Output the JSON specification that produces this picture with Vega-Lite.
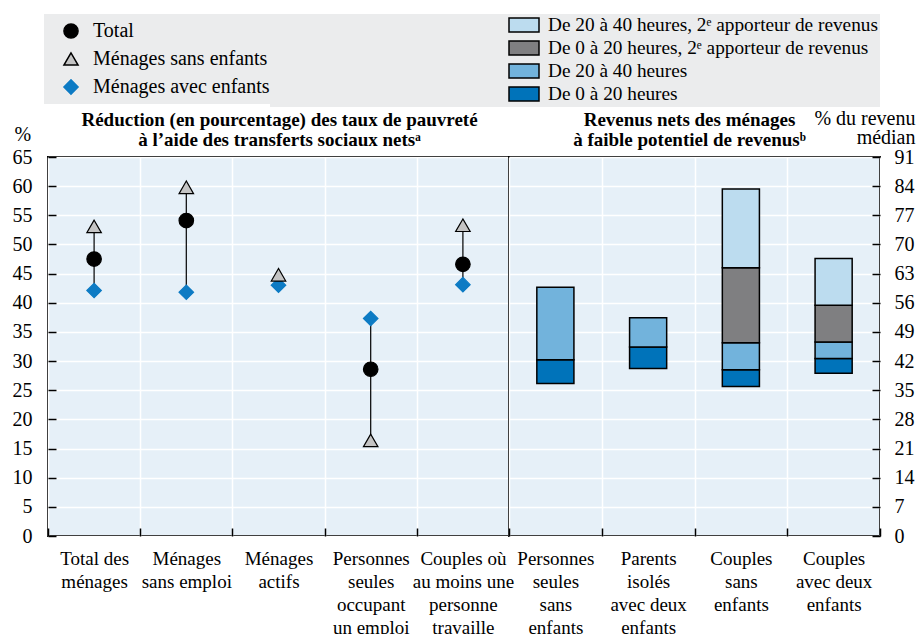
{
  "$schema": "https://vega.github.io/schema/vega-lite/v6.json",
  "padding": {"left": 11, "top": 13, "right": 0, "bottom": 0},
  "background": "white",
  "config": {
    "font": "Liberation Sans Narrow",
    "view": {"fill": "#e6f0f8", "stroke": "#000000", "strokeWidth": 2},
    "axis": {
      "labelFont": "Liberation Sans Narrow", "labelFontSize": 19, "labelColor": "#000000",
      "titleFont": "Liberation Sans Narrow", "titleFontSize": 19, "titleFontWeight": "normal", "titleColor": "#000000",
      "gridColor": "#ffffff", "gridWidth": 1.5, "gridOpacity": 1,
      "domain": false, "tickColor": "#000000", "tickWidth": 1.5
    },
    "legend": {
      "labelFont": "Liberation Sans Narrow", "labelFontSize": 20, "labelColor": "#000000", "labelLimit": 1000,
      "titleFont": "Liberation Sans Narrow", "titleFontSize": 12
    }
  },
  "spacing": 0,
  "bounds": "flush",
  "resolve": {
    "scale": {"x": "independent", "y": "independent", "color": "independent", "shape": "independent", "fill": "independent", "stroke": "independent"},
    "legend": {"color": "independent", "shape": "independent", "fill": "independent", "stroke": "independent"}
  },
  "hconcat": [
    {
      "width": 461,
      "height": 379,
      "data": {
        "values": [
          {"cat": "Total des|ménages", "series": "Total", "value": 47.5},
          {"cat": "Ménages|sans emploi", "series": "Total", "value": 54.1},
          {"cat": "Personnes|seules|occupant|un emploi", "series": "Total", "value": 28.6},
          {"cat": "Couples où|au moins une|personne|travaille", "series": "Total", "value": 46.6},
          {"cat": "Total des|ménages", "series": "Ménages avec enfants", "value": 42.1},
          {"cat": "Ménages|sans emploi", "series": "Ménages avec enfants", "value": 41.8},
          {"cat": "Ménages|actifs", "series": "Ménages avec enfants", "value": 43.0},
          {"cat": "Personnes|seules|occupant|un emploi", "series": "Ménages avec enfants", "value": 37.3},
          {"cat": "Couples où|au moins une|personne|travaille", "series": "Ménages avec enfants", "value": 43.1},
          {"cat": "Total des|ménages", "series": "Ménages sans enfants", "value": 53.1},
          {"cat": "Ménages|sans emploi", "series": "Ménages sans enfants", "value": 59.8},
          {"cat": "Ménages|actifs", "series": "Ménages sans enfants", "value": 44.8},
          {"cat": "Personnes|seules|occupant|un emploi", "series": "Ménages sans enfants", "value": 16.4},
          {"cat": "Couples où|au moins une|personne|travaille", "series": "Ménages sans enfants", "value": 53.3}
        ]
      },
      "resolve": {"axis": {"x": "independent"}},
      "layer": [
        {
          "mark": {"type": "rule", "color": "#000000", "strokeWidth": 1.2},
          "encoding": {
            "x": {
              "field": "cat", "type": "nominal",
              "sort": ["Total des|ménages", "Ménages|sans emploi", "Ménages|actifs", "Personnes|seules|occupant|un emploi", "Couples où|au moins une|personne|travaille"],
              "scale": {"paddingInner": 0, "paddingOuter": 0},
              "axis": {
                "title": null, "labelAngle": 0, "labelExpr": "split(datum.label, '|')",
                "labelLineHeight": 23, "labelPadding": 21.5, "labelBaseline": "top",
                "tickBand": "extent", "grid": true, "tickSize": -8
              }
            },
            "y": {"aggregate": "min", "field": "value", "type": "quantitative", "scale": {"domain": [0, 65], "nice": false},
              "axis": {
                "values": [0, 5, 10, 15, 20, 25, 30, 35, 40, 45, 50, 55, 60, 65],
                "tickCount": 30,
                "labelFontSize": 20, "labelOverlap": false, "labelBound": false,
                "title": "%", "titleAngle": 0, "titleAlign": "left", "titleBaseline": "alphabetic",
                "titleX": -34, "titleY": -17, "titleFontSize": 20,
                "tickSize": -8, "labelPadding": 24, "grid": true
              }
            },
            "y2": {"aggregate": "max", "field": "value"}
          }
        },
        {
          "mark": {"type": "point", "filled": true, "size": 210, "opacity": 1, "strokeWidth": 1.2},
          "encoding": {
            "x": {
              "field": "cat", "type": "nominal",
              "sort": ["Total des|ménages", "Ménages|sans emploi", "Ménages|actifs", "Personnes|seules|occupant|un emploi", "Couples où|au moins une|personne|travaille"],
              "axis": {
                "orient": "top", "labels": false, "ticks": false, "domain": false, "grid": false,
                "title": ["Réduction (en pourcentage) des taux de pauvreté", "à l’aide des transferts sociaux netsᵃ"],
                "titleFontWeight": "bold", "titleFontSize": 19, "titleLineHeight": 20,
                "titleAlign": "center", "titleBaseline": "alphabetic", "titleAngle": 0,
                "titleX": 231, "titleY": -32
              }
            },
            "y": {"field": "value", "type": "quantitative", "scale": {"domain": [0, 65], "nice": false}},
            "shape": {
              "field": "series", "type": "nominal",
              "scale": {"domain": ["Total", "Ménages sans enfants", "Ménages avec enfants"], "range": ["circle", "triangle-up", "diamond"]},
              "legend": {
                "orient": "none", "legendX": -4, "legendY": -143,
                "fillColor": "#ebeced", "padding": 7,
                "title": " ", "titleOrient": "left", "titlePadding": 10,
                "clipHeight": 20, "rowPadding": 8, "labelOffset": 12, "symbolSize": 200
              }
            },
            "fill": {
              "field": "series", "type": "nominal",
              "scale": {"domain": ["Total", "Ménages sans enfants", "Ménages avec enfants"], "range": ["#000000", "#c4c4c4", "#0d7bc4"]}
            },
            "stroke": {
              "field": "series", "type": "nominal",
              "scale": {"domain": ["Total", "Ménages sans enfants", "Ménages avec enfants"], "range": ["#000000", "#000000", "#0d7bc4"]}
            }
          }
        }
      ]
    },
    {
      "width": 371,
      "height": 379,
      "data": {
        "values": [
          {"cat": "Personnes|seules|sans|enfants", "segment": "De 0 à 20 heures", "earner": "1", "low": 36.6, "high": 42.3},
          {"cat": "Personnes|seules|sans|enfants", "segment": "De 20 à 40 heures", "earner": "1", "low": 42.3, "high": 59.7},
          {"cat": "Parents|isolés|avec deux|enfants", "segment": "De 0 à 20 heures", "earner": "1", "low": 40.2, "high": 45.4},
          {"cat": "Parents|isolés|avec deux|enfants", "segment": "De 20 à 40 heures", "earner": "1", "low": 45.4, "high": 52.4},
          {"cat": "Couples|sans|enfants", "segment": "De 0 à 20 heures", "earner": "1", "low": 35.9, "high": 39.9},
          {"cat": "Couples|sans|enfants", "segment": "De 20 à 40 heures", "earner": "1", "low": 39.9, "high": 46.4},
          {"cat": "Couples|sans|enfants", "segment": "De 0 à 20 heures, 2ᵉ apporteur de revenus", "earner": "2", "low": 46.4, "high": 64.4},
          {"cat": "Couples|sans|enfants", "segment": "De 20 à 40 heures, 2ᵉ apporteur de revenus", "earner": "2", "low": 64.4, "high": 83.3},
          {"cat": "Couples|avec deux|enfants", "segment": "De 0 à 20 heures", "earner": "1", "low": 39.1, "high": 42.6},
          {"cat": "Couples|avec deux|enfants", "segment": "De 20 à 40 heures", "earner": "1", "low": 42.6, "high": 46.6},
          {"cat": "Couples|avec deux|enfants", "segment": "De 0 à 20 heures, 2ᵉ apporteur de revenus", "earner": "2", "low": 46.6, "high": 55.4},
          {"cat": "Couples|avec deux|enfants", "segment": "De 20 à 40 heures, 2ᵉ apporteur de revenus", "earner": "2", "low": 55.4, "high": 66.6}
        ]
      },
      "resolve": {"axis": {"x": "independent"}},
      "layer": [
        {
          "transform": [{"filter": "datum.earner == '1'"}],
          "mark": {"type": "bar", "stroke": "#000000", "strokeWidth": 1.5, "width": {"band": 0.4}},
          "encoding": {
            "x": {
              "field": "cat", "type": "nominal",
              "sort": ["Personnes|seules|sans|enfants", "Parents|isolés|avec deux|enfants", "Couples|sans|enfants", "Couples|avec deux|enfants"],
              "scale": {"paddingInner": 0, "paddingOuter": 0},
              "axis": {
                "title": null, "labelAngle": 0, "labelExpr": "split(datum.label, '|')",
                "labelLineHeight": 23, "labelPadding": 21.5, "labelBaseline": "top",
                "tickBand": "extent", "grid": true, "tickSize": -8
              }
            },
            "y": {
              "field": "low", "type": "quantitative", "scale": {"domain": [0, 91], "nice": false},
              "axis": {
                "orient": "right",
                "values": [0, 7, 14, 21, 28, 35, 42, 49, 56, 63, 70, 77, 84, 91],
                "tickCount": 30,
                "labelFontSize": 20, "labelOverlap": false, "labelBound": false,
                "title": ["% du revenu", "médian"], "titleAngle": 0, "titleAlign": "right", "titleBaseline": "alphabetic",
                "titleX": 35, "titleY": -33, "titleLineHeight": 19, "titleFontSize": 20,
                "tickSize": -8, "labelPadding": 22, "grid": true
              }
            },
            "y2": {"field": "high"},
            "color": {
              "field": "segment", "type": "nominal",
              "scale": {
                "domain": ["De 20 à 40 heures, 2ᵉ apporteur de revenus", "De 0 à 20 heures, 2ᵉ apporteur de revenus", "De 20 à 40 heures", "De 0 à 20 heures"],
                "range": ["#bcdcef", "#7f7f81", "#72b3dc", "#0073ba"]
              },
              "legend": {
                "orient": "none", "legendX": -239, "legendY": -143,
                "fillColor": "#ebeced", "padding": 2,
                "title": " ", "titleOrient": "left", "titlePadding": 236,
                "labelFontSize": 19.3,
                "clipHeight": 18, "rowPadding": 3, "labelOffset": 8,
                "symbolType": "M-1,-0.467H1V0.467H-1Z", "symbolSize": 900,
                "symbolStrokeColor": "#000000", "symbolStrokeWidth": 1.5
              }
            }
          }
        },
        {
          "transform": [{"filter": "datum.earner == '2'"}],
          "mark": {"type": "bar", "stroke": "#000000", "strokeWidth": 1.5, "width": {"band": 0.4}},
          "encoding": {
            "x": {
              "field": "cat", "type": "nominal",
              "sort": ["Personnes|seules|sans|enfants", "Parents|isolés|avec deux|enfants", "Couples|sans|enfants", "Couples|avec deux|enfants"],
              "axis": {
                "orient": "top", "labels": false, "ticks": false, "domain": false, "grid": false,
                "title": ["Revenus nets des ménages", "à faible potentiel de revenusᵇ"],
                "titleFontWeight": "bold", "titleFontSize": 19, "titleLineHeight": 20,
                "titleAlign": "center", "titleBaseline": "alphabetic", "titleAngle": 0,
                "titleX": 180, "titleY": -32
              }
            },
            "y": {"field": "low", "type": "quantitative", "scale": {"domain": [0, 91], "nice": false}},
            "y2": {"field": "high"},
            "color": {"field": "segment", "type": "nominal"}
          }
        }
      ]
    }
  ]
}
